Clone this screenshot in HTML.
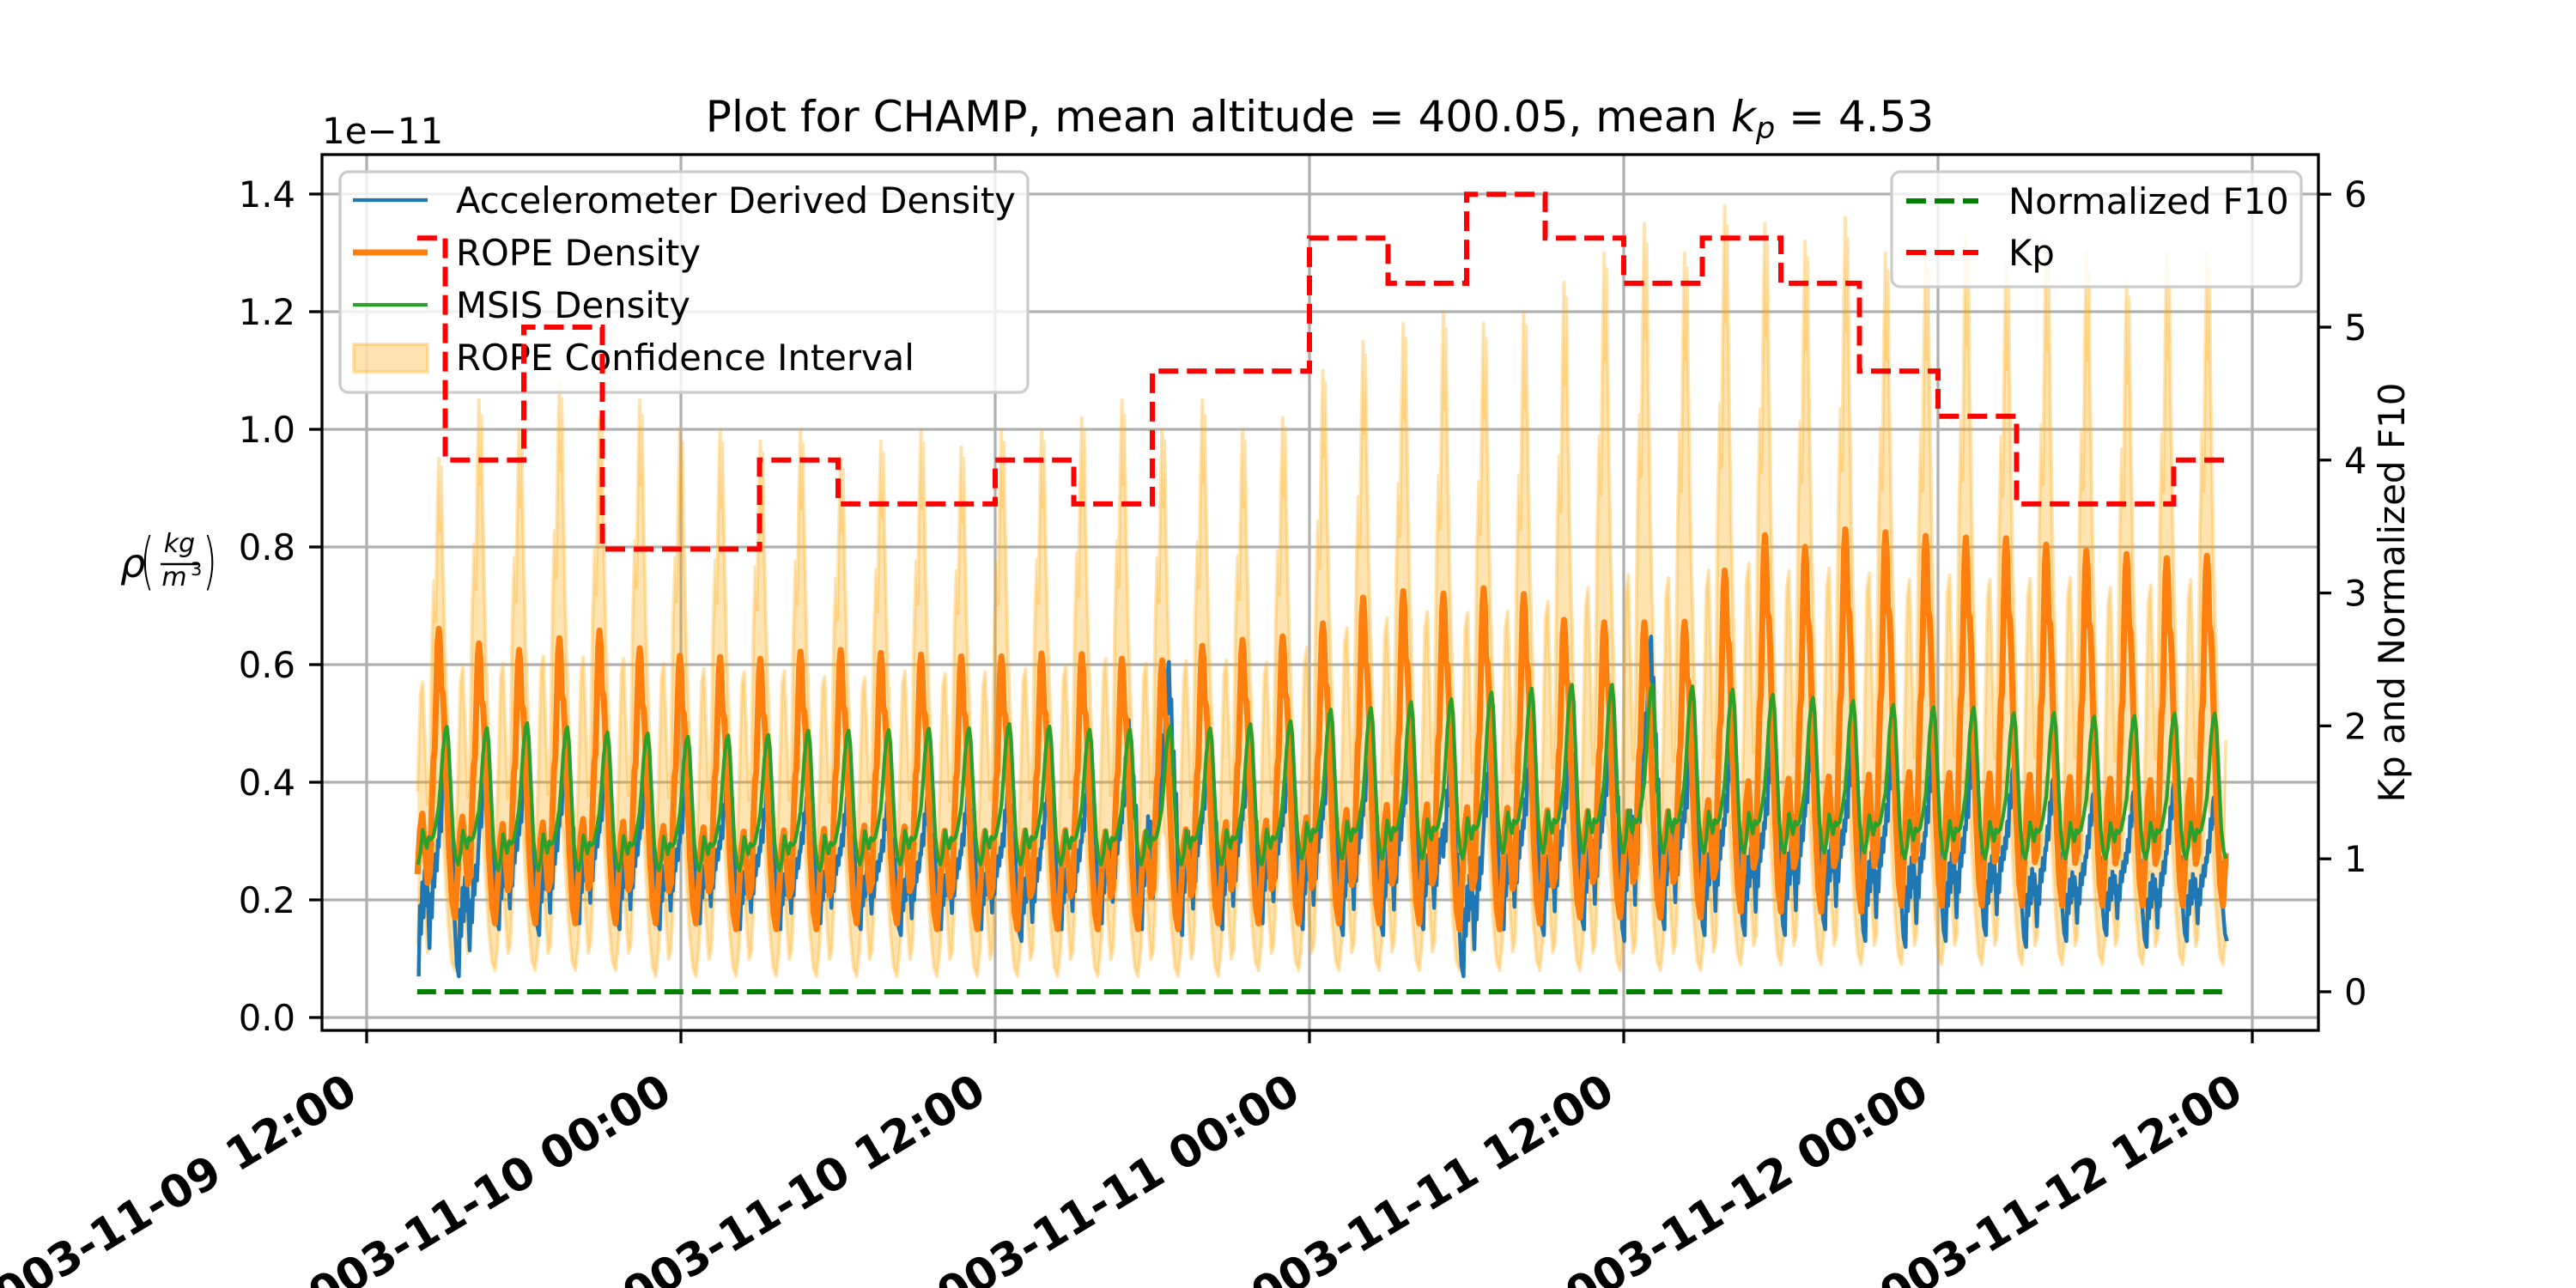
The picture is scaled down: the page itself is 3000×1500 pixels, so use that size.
<!DOCTYPE html>
<html><head><meta charset="utf-8">
<style>
html,body{margin:0;padding:0;background:#fff;}
svg{display:block;font-family:"DejaVu Sans","Liberation Sans",sans-serif;}
</style></head>
<body>
<svg id="chart" width="3000" height="1500" viewBox="0 0 3000 1500" xmlns="http://www.w3.org/2000/svg">
<rect x="0" y="0" width="3000" height="1500" fill="#fff"/>
<defs><clipPath id="plotClip"><rect x="375" y="180" width="2325" height="1020"/></clipPath></defs>
<g id="grid"></g>
<g id="series" clip-path="url(#plotClip)"></g>
<g id="axes"></g>
<g id="legend1"></g>
<g id="kpLayer" clip-path="url(#plotClip)"></g>
<g id="legend2"></g>
<text x="1537" y="153" font-size="50" text-anchor="middle">Plot for CHAMP, mean altitude = 400.05, mean <tspan font-style="italic">k</tspan><tspan font-style="italic" font-size="35" dy="8">p</tspan><tspan dy="-8"> = 4.53</tspan></text>
<text x="375" y="167" font-size="42">1e−11</text>
<g>
<text x="140" y="672" font-size="46" font-style="italic">ρ</text>
<text x="163" y="678" font-size="72" font-weight="100" transform="translate(163 678) scale(0.6 1) translate(-163 -678)">(</text>
<text x="209" y="643" font-size="30" font-style="italic" text-anchor="middle">kg</text>
<line x1="187" y1="657" x2="232" y2="657" stroke="#000" stroke-width="2.5"/>
<text x="203" y="682" font-size="30" font-style="italic" text-anchor="middle">m</text>
<text x="222" y="670" font-size="21">3</text>
<text x="236" y="678" font-size="72" font-weight="100" transform="translate(236 678) scale(0.6 1) translate(-236 -678)">)</text>
</g>
<text x="0" y="0" font-size="42" text-anchor="middle" transform="translate(2800 690) rotate(-90)">Kp and Normalized F10</text>
</svg>
<script>
// ---- data ----
const xTickLabels = ["2003-11-09 12:00","2003-11-10 00:00","2003-11-10 12:00","2003-11-11 00:00","2003-11-11 12:00","2003-11-12 00:00","2003-11-12 12:00"];
const xTickHours = [0,12,24,36,48,60,72];
const yTickValues = [0.0,0.2,0.4,0.6,0.8,1.0,1.2,1.4];
const yTickLabels = ["0.0","0.2","0.4","0.6","0.8","1.0","1.2","1.4"];
const kpTickValues = [0,1,2,3,4,5,6];
const kpTickLabels = ["0","1","2","3","4","5","6"];
// hours since 2003-11-09 12:00
const dataStartHour = 1.93;
const dataEndHour = 71.08;
const firstPeakHour = 2.754;
const orbitPeriodHours = 1.5344;
// Kp per 3-hour interval starting 2003-11-09 12:00
const kpValues = [5.67,4.0,5.0,3.33,3.33,4.0,3.67,3.67,4.0,3.67,4.67,4.67,5.67,5.33,6.0,5.67,5.33,5.67,5.33,4.67,4.33,3.67,3.67,4.0];
const f10Value = 0;
// per-orbit peak / trough values (units 1e-11 kg/m^3)
const ropePeak = [.661,.636,.625,.645,.658,.628,.615,.613,.61,.622,.625,.62,.617,.614,.614,
 .619,.618,.61,.607,.632,.642,.648,.67,.714,.725,.721,.73,.72,.676,.672,.672,.673,
 .76,.82,.80,.83,.825,.819,.816,.815,.804,.794,.788,.781,.785];
const ropeTrough = [.17,.16,.16,.16,.16,.16,.16,.15,.15,.15,.16,.16,.15,.15,.15,
 .15,.15,.15,.15,.16,.16,.16,.16,.16,.16,.15,.15,.16,.17,.17,.17,.17,
 .18,.18,.18,.18,.19,.19,.19,.19,.19,.19,.19,.19,.19];
const msisPeak = [.496,.49,.502,.496,.485,.485,.477,.48,.479,.488,.488,.488,.492,.49,.5,
 .496,.49,.488,.496,.49,.499,.499,.524,.524,.536,.539,.552,.558,.566,.566,.566,.564,
 .56,.55,.545,.54,.533,.527,.53,.517,.52,.512,.512,.517,.517];
const msisTrough = [.26,.25,.25,.25,.25,.25,.25,.25,.25,.25,.26,.26,.26,.26,.26,
 .26,.26,.26,.26,.26,.26,.27,.27,.27,.27,.27,.28,.28,.28,.28,.28,.28,
 .28,.28,.28,.28,.27,.27,.27,.27,.27,.27,.27,.27,.27];
const accelPeak = [.47,.43,.45,.46,.45,.43,.41,.40,.39,.38,.38,.37,.38,.38,.39,
 .40,.41,.48,.63,.48,.48,.47,.50,.51,.50,.44,.46,.47,.48,.52,.68,.49,
 .48,.47,.50,.47,.466,.455,.466,.425,.41,.38,.38,.40,.374];
const accelTrough = [.07,.15,.14,.16,.15,.15,.16,.15,.15,.16,.15,.14,.15,.15,.13,
 .15,.16,.15,.14,.15,.16,.15,.14,.14,.15,.07,.15,.14,.15,.13,.15,.14,
 .14,.14,.15,.13,.12,.13,.14,.12,.13,.14,.12,.13,.13];
const ciUpperPeak = [.95,1.05,1.0,1.08,1.02,1.05,1.0,1.0,.98,1.0,.95,.98,1.0,.97,1.0,
 1.0,1.02,1.05,1.0,1.05,1.0,1.02,1.1,1.15,1.18,1.2,1.18,1.2,1.25,1.3,1.35,1.3,
 1.38,1.35,1.32,1.36,1.3,1.3,1.33,1.28,1.32,1.3,1.25,1.3,1.3];
const ciUpperTrough = [.26,.26,.26,.26,.26,.26,.26,.26,.26,.26,.26,.26,.26,.26,.26,
 .26,.26,.26,.26,.27,.27,.27,.28,.28,.28,.28,.28,.28,.28,.28,.28,.28,
 .29,.29,.29,.29,.29,.29,.29,.29,.29,.29,.29,.29,.29];
const ciLowerPeak = [.38,.37,.37,.37,.38,.37,.36,.36,.36,.36,.36,.36,.36,.36,.36,
 .36,.36,.36,.36,.37,.37,.37,.38,.39,.40,.40,.40,.40,.38,.38,.38,.38,
 .40,.42,.42,.42,.42,.42,.42,.42,.41,.41,.41,.40,.40];
const ciLowerTrough = [.08,.08,.08,.08,.08,.07,.07,.07,.07,.07,.07,.07,.07,.07,.07,
 .07,.07,.07,.07,.07,.08,.08,.08,.08,.08,.08,.08,.08,.08,.08,.08,.08,
 .09,.09,.09,.09,.09,.09,.09,.09,.09,.09,.09,.09,.09];
// intra-orbit shape profiles: [phase from peak, normalized value]
const ropeShape = [[0,1],[.03,.95],[.06,.8],[.1,.78],[.13,.7],[.18,.5],[.25,.25],[.33,.06],[.4,0],[.47,.15],[.53,.3],[.59,.36],[.65,.25],[.72,.12],[.78,.15],[.83,.4],[.87,.55],[.9,.58],[.94,.8],[.97,.95]];
const msisShape = [[0,.42],[.05,.6],[.1,.82],[.16,.97],[.2,1],[.24,.9],[.3,.55],[.36,.2],[.42,.05],[.48,0],[.54,.08],[.6,.25],[.65,.18],[.7,.12],[.75,.2],[.8,.18],[.86,.2],[.92,.28],[.96,.35]];
const accelShape = [[0,.55],[.03,.7],[.06,.62],[.09,.85],[.12,.78],[.15,.97],[.17,1],[.2,.82],[.23,.88],[.26,.65],[.29,.7],[.32,.5],[.35,.55],[.38,.3],[.42,.15],[.45,.05],[.5,0],[.53,.3],[.56,.18],[.59,.4],[.62,.25],[.65,.45],[.68,.3],[.71,.42],[.74,.28],[.77,.12],[.8,.35],[.83,.25],[.86,.45],[.89,.38],[.92,.52],[.95,.45],[.98,.58]];
const ciUpperShape = [[0,1],[.03,.82],[.06,.97],[.1,.75],[.16,.5],[.24,.3],[.32,.08],[.4,0],[.47,.18],[.54,.42],[.6,.45],[.66,.3],[.72,.15],[.78,.25],[.83,.55],[.88,.7],[.92,.6],[.96,.85]];
const ciLowerShape = [[0,1],[.05,.85],[.1,.8],[.16,.55],[.24,.25],[.32,.05],[.4,0],[.47,.15],[.54,.45],[.6,.5],[.66,.3],[.72,.1],[.78,.15],[.84,.45],[.9,.6],[.95,.85]];

// ---- scales ----
function xOf(h){ return 427 + 30.5*h; }
function yL(v){ return 1185 - 685*v; }
function yR(k){ return 1155 - 154.8*k; }
const NS = "http://www.w3.org/2000/svg";
function mk(tag, attrs, parent){ const e=document.createElementNS(NS,tag); for(const k in attrs) e.setAttribute(k, attrs[k]); parent.appendChild(e); return e; }
const grid=document.getElementById('grid'), series=document.getElementById('series'), axes=document.getElementById('axes');

// grid
xTickHours.forEach((h,i)=>{
  const l=mk('line',{x1:xOf(h),x2:xOf(h),y1:180,y2:1200,stroke:'#b0b0b0','stroke-width':3.3},grid);
  
  
});
yTickValues.forEach(v=>{
  const l=mk('line',{x1:375,x2:2700,y1:yL(v),y2:yL(v),stroke:'#b0b0b0','stroke-width':3.3},grid);
  
  
});

// series builder
function buildSeries(peaks, troughs, shape){
  const n=peaks.length, pts=[];
  for(let k=-1;k<n;k++){
    for(const [p,val] of shape){
      const h=firstPeakHour+(k+p)*orbitPeriodHours;
      if(h<dataStartHour||h>dataEndHour) continue;
      const a=Math.max(k,0), b=Math.min(k+1,n-1);
      const pk=peaks[a]*(1-p)+peaks[b]*p;
      const tr=troughs[a];
      pts.push([h, tr+val*(pk-tr)]);
    }
  }
  return pts;
}
function pathOf(pts, yf){ return pts.map((q,i)=>(i?'L':'M')+xOf(q[0]).toFixed(1)+' '+yf(q[1]).toFixed(1)).join(''); }

// confidence interval
const up=buildSeries(ciUpperPeak,ciUpperTrough,ciUpperShape);
const lo=buildSeries(ciLowerPeak,ciLowerTrough,ciLowerShape);
const loRev=lo.slice().reverse();
const ciFill=mk('path',{d:pathOf(up,yL)+loRev.map(q=>'L'+xOf(q[0]).toFixed(1)+' '+yL(q[1]).toFixed(1)).join('')+'Z',fill:'#ffa500','fill-opacity':0.3,stroke:'none'},series);


const ciUp=mk('path',{d:pathOf(up,yL),fill:'none',stroke:'#ffa500','stroke-opacity':0.3,'stroke-width':4,'stroke-linejoin':'round'},series);


const ciLo=mk('path',{d:pathOf(lo,yL),fill:'none',stroke:'#ffa500','stroke-opacity':0.3,'stroke-width':4,'stroke-linejoin':'round'},series);



const accel=mk('path',{d:pathOf(buildSeries(accelPeak,accelTrough,accelShape),yL),fill:'none',stroke:'#1f77b4','stroke-width':4.5,'stroke-linejoin':'round'},series);


const rope=mk('path',{d:pathOf(buildSeries(ropePeak,ropeTrough,ropeShape),yL),fill:'none',stroke:'#ff7f0e','stroke-width':7,'stroke-linejoin':'round'},series);


const msis=mk('path',{d:pathOf(buildSeries(msisPeak,msisTrough,msisShape),yL),fill:'none',stroke:'#2ca02c','stroke-width':4.2,'stroke-linejoin':'round'},series);



// Kp & F10
const kpLayer=document.getElementById('kpLayer');
const f10=mk('line',{x1:xOf(dataStartHour),x2:xOf(dataEndHour),y1:yR(f10Value),y2:yR(f10Value),stroke:'#008000','stroke-width':6,'stroke-dasharray':'22 10'},series);


let kd='';
let h=dataStartHour, idx=Math.floor(h/3);
kd='M'+xOf(h)+' '+yR(kpValues[idx]);
while(true){
  const nextB=(idx+1)*3;
  if(nextB>=dataEndHour){ kd+='L'+xOf(dataEndHour)+' '+yR(kpValues[idx]); break; }
  kd+='L'+xOf(nextB)+' '+yR(kpValues[idx])+'L'+xOf(nextB)+' '+yR(kpValues[idx+1]);
  idx++;
}
const kp=mk('path',{d:kd,fill:'none',stroke:'#ff0000','stroke-width':6,'stroke-dasharray':'23 10'},kpLayer);



// axes frame
const frame=mk('rect',{x:375,y:180,width:2325,height:1020,fill:'none',stroke:'#000','stroke-width':3.3},axes);


yTickValues.forEach((v,i)=>{
  const t=mk('line',{x1:360,x2:375,y1:yL(v),y2:yL(v),stroke:'#000','stroke-width':3.3},axes);
  
  
  const tx=mk('text',{x:344,y:yL(v)+15,'font-size':41.7,'text-anchor':'end'},axes);
  tx.textContent=yTickLabels[i];
  
  
});
kpTickValues.forEach((v,i)=>{
  const t=mk('line',{x1:2700,x2:2715,y1:yR(v),y2:yR(v),stroke:'#000','stroke-width':3.3},axes);
  
  
  const tx=mk('text',{x:2730,y:yR(v)+15,'font-size':41.7},axes);
  tx.textContent=kpTickLabels[i];
  
  
});
xTickHours.forEach((hh,i)=>{
  const x=xOf(hh);
  const t=mk('line',{x1:x,x2:x,y1:1200,y2:1215,stroke:'#000','stroke-width':3.3},axes);
  
  
  const tx=mk('text',{x:0,y:0,'font-size':52,'font-weight':'bold','text-anchor':'end',transform:'translate('+(x-8)+' 1280) rotate(-31)'},axes);
  tx.textContent=xTickLabels[i];
  
  
});

// legends
function legendBox(g,x,y,w,hgt){
  const r=mk('rect',{x:x,y:y,width:w,height:hgt,rx:10,fill:'#fff','fill-opacity':0.8,stroke:'#cccccc','stroke-width':3.3},g);
  
  
}
const l1=document.getElementById('legend1');
legendBox(l1,396,200,801,257);
const leg1Names=["Accelerometer Derived Density","ROPE Density","MSIS Density","ROPE Confidence Interval"];
const leg1Colors=['#1f77b4','#ff7f0e','#2ca02c','#ffa500'];
const leg1Widths=[4.2,7,4.2,0];
leg1Names.forEach((nm,i)=>{
  const cy=233+61*i;
  const g=mk('g',{},l1);
  
  
  if(i<3){ mk('line',{x1:411,x2:498,y1:cy,y2:cy,stroke:leg1Colors[i],'stroke-width':leg1Widths[i]},g); }
  else { mk('rect',{x:412,y:cy-15,width:86,height:32,fill:'#ffa500','fill-opacity':0.3,stroke:'#ffa500','stroke-opacity':0.3,'stroke-width':4},g); }
  const t=mk('text',{x:531,y:cy+15,'font-size':41.7},g);
  t.textContent=nm;
});
const l2=document.getElementById('legend2');
legendBox(l2,2203,200,477,134);
const leg2Names=["Normalized F10","Kp"];
const leg2Colors=['#008000','#ff0000'];
leg2Names.forEach((nm,i)=>{
  const cy=234+60*i;
  const g=mk('g',{},l2);
  
  
  mk('line',{x1:2220,x2:2304,y1:cy,y2:cy,stroke:leg2Colors[i],'stroke-width':6,'stroke-dasharray':'23 10'},g);
  const t=mk('text',{x:2339,y:cy+15,'font-size':41.7},g);
  t.textContent=nm;
});
</script>
</body></html>
